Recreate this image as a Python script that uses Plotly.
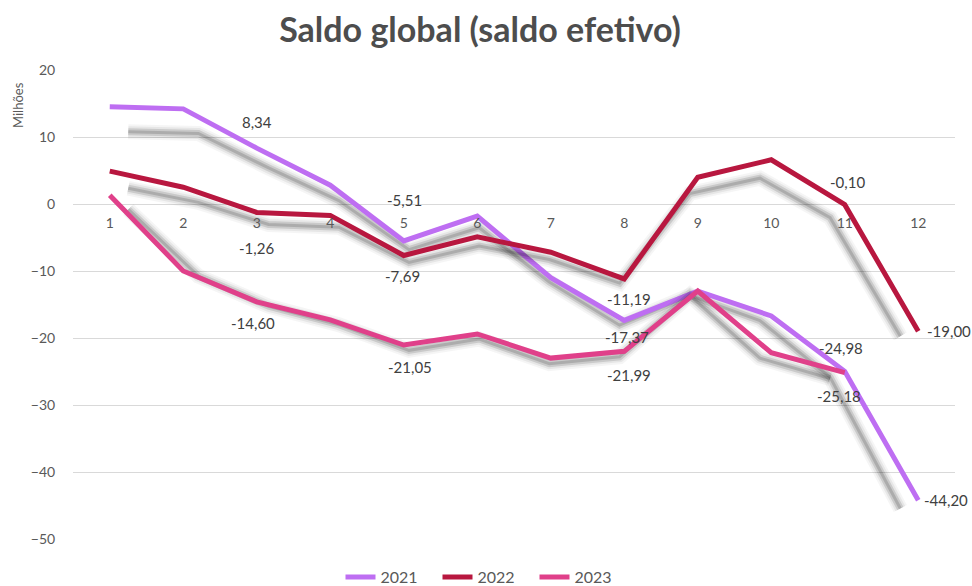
import plotly.graph_objects as go

months = [1, 2, 3, 4, 5, 6, 7, 8, 9, 10, 11, 12]
tick_labels = ["1", "2", "3", "4", "5", "6", "7", "8", "9", "10", "11", "12"]
years = ["2021", "2022", "2023"]

v2021 = [14.5, 14.2, 8.34, 2.8, -5.51, -1.8, -11.0, -17.37, -13.0, -16.7, -24.98, -44.20]
v2022 = [4.9, 2.5, -1.26, -1.7, -7.69, -4.9, -7.2, -11.19, 4.0, 6.6, -0.10, -19.00]
v2023 = [1.3, -10.0, -14.60, -17.3, -21.05, -19.4, -23.0, -21.99, -13.0, -22.2, -25.18, None]

# labelled points (month index -> label text)
labels2021 = {3: "8,34", 5: "-5,51", 8: "-17,37", 11: "-24,98", 12: "-44,20"}
labels2022 = {3: "-1,26", 5: "-7,69", 8: "-11,19", 11: "-0,10", 12: "-19,00"}
labels2023 = {3: "-14,60", 5: "-21,05", 8: "-21,99", 11: "-25,18"}

# styling (label offsets in pixels: xshift, yshift, xanchor)
label_style = {
    "2021": {3: (0, 26, "center"), 5: (1, 41, "center"), 8: (3, -17, "center"),
             11: (-4, 23, "center"), 12: (4, 0, "left")},
    "2022": {3: (0, -36, "center"), 5: (-1, -20, "center"), 8: (5, -20, "center"),
             11: (3, 23, "center"), 12: (7, 0, "left")},
    "2023": {3: (-4, -21, "center"), 5: (6, -22, "center"), 8: (5, -24, "center"),
             11: (-6, -23, "center")},
}
colors = {"2021": "#BE6EF2", "2022": "#B8173F", "2023": "#E0408A"}

series = {"2021": v2021, "2022": v2022, "2023": v2023}
labels = {"2021": labels2021, "2022": labels2022, "2023": labels2023}

# perspective-like drop shadow derived from the data positions
def shadow_x(x):
    return 6.58 + (x - 6.58) * 0.955

def shadow_y(v):
    if v is None:
        return None
    if v > -11.34:
        dy = 4 + 0.12 * (76 + 6.7 * v)
    else:
        dy = 4 + 0.02 * (-76 - 6.7 * v)
    return v - dy / 6.7

fig = go.Figure()
shadow_layers = [(15, 0.04), (11, 0.06), (7, 0.12), (3, 0.15)]
for yr in years:
    vals = series[yr]
    sx = [shadow_x(m) for m in months]
    sy = [shadow_y(v) for v in vals]
    for w, a in shadow_layers:
        fig.add_trace(go.Scatter(x=sx, y=sy, mode="lines",
                                 line=dict(color=f"rgba(0,0,0,{a})", width=w),
                                 showlegend=False, hoverinfo="skip"))
    fig.add_trace(go.Scatter(x=months, y=vals, mode="lines", name=yr,
                             line=dict(color=colors[yr], width=5)))

annotations = []
for yr in years:
    for m, txt in labels[yr].items():
        xs, ys, xa = label_style[yr][m]
        annotations.append(dict(x=m, y=series[yr][m - 1], text=txt, showarrow=False,
                                xshift=xs, yshift=ys, xanchor=xa, yanchor="middle",
                                font=dict(family="Lato", size=15, color="#404040")))

annotations.append(dict(x=(18 - 73) / 882, y=(539 - 105) / 469, xref="paper", yref="paper",
                        text="Milhões", showarrow=False, textangle=-90,
                        xanchor="center", yanchor="middle",
                        font=dict(family="Lato", size=13, color="#595959")))

fig.update_layout(
    width=972, height=586,
    margin=dict(l=73, r=17, t=70, b=47, autoexpand=False),
    paper_bgcolor="white", plot_bgcolor="white",
    title=dict(text="<b>Saldo global (saldo efetivo)</b>", x=480 / 972, xanchor="center",
               xref="container", y=1 - 30 / 586, yanchor="middle",
               font=dict(family="Lato", size=34, color="#4D4D4D")),
    xaxis=dict(tickmode="array", tickvals=months, ticktext=tick_labels,
               range=[0.5, 12.5], showgrid=False, zeroline=False, showline=False,
               anchor="free", position=50 / 70, ticks="outside", ticklen=6,
               tickcolor="rgba(0,0,0,0)", automargin=False,
               tickfont=dict(family="Lato", size=14, color="#595959")),
    yaxis=dict(range=[-50, 20], dtick=10, showgrid=True, gridcolor="#D9D9D9",
               gridwidth=1, zeroline=False, showline=False, ticks="outside",
               ticklen=14, tickcolor="rgba(0,0,0,0)", automargin=False,
               tickfont=dict(family="Lato", size=14, color="#595959")),
    legend=dict(orientation="h", x=0.5, xanchor="center", xref="container",
                y=1 - 577 / 586, yanchor="middle", yref="container",
                font=dict(family="Lato", size=16, color="#595959"),
                entrywidth=52, entrywidthmode="pixels", traceorder="normal"),
    annotations=annotations,
)

fig.write_html("out.html", config={"displayModeBar": False},
               post_script="document.body.style.margin='0';document.body.style.overflow='hidden';")
